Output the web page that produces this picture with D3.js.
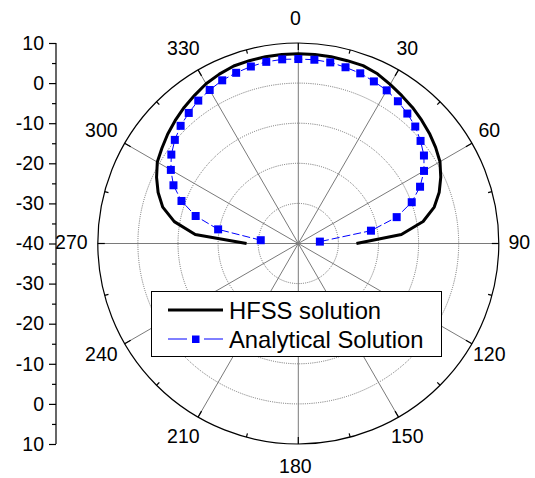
<!DOCTYPE html>
<html>
<head>
<meta charset="utf-8">
<script src="https://cdn.jsdelivr.net/npm/d3@7"></script>
<style>
  html, body { margin: 0; padding: 0; background: #fff; }
  svg { display: block; font-family: "Liberation Sans", Arial, sans-serif; }
</style>
</head>
<body>
<svg id="chart" width="535" height="478"></svg>
<script>
// Radiation pattern (dB) versus angle (degrees, 0 = broadside, clockwise)
const hfssAngles = d3.range(-90, 91, 5);
const hfssValues = [
  -27.1, -14.2, -8.6, -5.0, -2.8, -1.0, 0.6, 1.5, 2.5, 3.4, 4.3, 5.1, 6.0, 6.6, 7.1, 7.2, 7.3, 7.3,
  7.3,
  7.3, 7.3, 7.2, 7.2, 6.7, 5.8, 5.0, 4.3, 3.5, 2.7, 1.8, 0.8, -0.8, -2.6, -4.9, -8.4, -14.2, -25.5
];

const analyticalAngles = d3.range(-85, 86, 5);
const analyticalValues = [
  -30.6, -19.7, -13.5, -9.0, -5.65, -3.3, -1.35, 0.2, 1.5, 2.5, 3.5, 4.2, 4.9, 5.3, 5.7, 6.0, 6.1,
  6.0,
  6.0, 5.86, 5.5, 5.16, 4.6, 4.1, 3.3, 2.3, 1.25, -0.2, -1.75, -3.8, -6.5, -9.9, -14.6, -21.6, -34.6
];

const radialTicks = [10, 0, -10, -20, -30, -40];
const radialMinorTicks = [5, -5, -15, -25, -35];
const angleTicks = [0, 30, 60, 90, 120, 150, 180, 210, 240, 270, 300, 330];
const angleMinorTicks = [15, 45, 75, 105, 135, 165, 195, 225, 255, 285, 315, 345];
const gridRings = [-30, -20, -10, 0];
const seriesNames = ["HFSS solution", "Analytical Solution"];

const cx = 298.3, cy = 243.5, R = 200.5;
const rad = d3.scaleLinear().domain([-40, 10]).range([0, R]).clamp(true);
const toRad = d => d * Math.PI / 180;

const svg = d3.select("#chart");
svg.append("rect").attr("width", 535).attr("height", 478).attr("fill", "#fff");

const g = svg.append("g").attr("transform", `translate(${cx},${cy})`);

// dotted grid rings
g.selectAll("circle.ring").data(gridRings).join("circle")
  .attr("class", "ring")
  .attr("r", d => rad(d))
  .attr("fill", "none")
  .attr("stroke", "#6e6e6e")
  .attr("stroke-width", 1)
  .attr("stroke-dasharray", "1,1.2");

// spokes
g.selectAll("line.spoke").data(angleTicks).join("line")
  .attr("class", "spoke")
  .attr("x1", 0).attr("y1", 0)
  .attr("x2", d => R * Math.sin(toRad(d)))
  .attr("y2", d => -R * Math.cos(toRad(d)))
  .attr("stroke", "#7a7a7a")
  .attr("stroke-width", 1);

// outer circle
g.append("circle").attr("r", R).attr("fill", "none").attr("stroke", "#000").attr("stroke-width", 1.2);

// angular ticks (inward)
function angTick(list, len, cls) {
  g.selectAll("line." + cls).data(list).join("line")
    .attr("class", cls)
    .attr("x1", d => R * Math.sin(toRad(d)))
    .attr("y1", d => -R * Math.cos(toRad(d)))
    .attr("x2", d => (R - len) * Math.sin(toRad(d)))
    .attr("y2", d => -(R - len) * Math.cos(toRad(d)))
    .attr("stroke", "#000")
    .attr("stroke-width", 1.2);
}
angTick(angleTicks, 7, "amaj");
angTick(angleMinorTicks, 4, "amin");

// angular labels
const LR = 224;
g.selectAll("text.alab").data(angleTicks).join("text")
  .attr("class", "alab")
  .attr("x", d => LR * Math.sin(toRad(d)) - 3)
  .attr("y", d => -LR * Math.cos(toRad(d)) - 1.5)
  .attr("dy", "0.36em")
  .attr("text-anchor", "middle")
  .attr("font-size", 19.5)
  .attr("fill", "#000")
  .text(d => d);

// HFSS curve
const hfssData = hfssAngles.map((a, i) => ({ a, v: hfssValues[i] }));
const radialLine = d3.lineRadial()
  .angle(d => toRad(d.a))
  .radius(d => rad(d.v));
g.append("path")
  .datum(hfssData)
  .attr("d", radialLine)
  .attr("fill", "none")
  .attr("stroke", "#000")
  .attr("stroke-width", 3)
  .attr("stroke-linejoin", "round");

// Analytical curve
const anData = analyticalAngles.map((a, i) => ({ a, v: analyticalValues[i] }));
g.append("path")
  .datum(anData)
  .attr("d", radialLine)
  .attr("fill", "none")
  .attr("stroke", "#0000ff")
  .attr("stroke-width", 1)
  .attr("stroke-dasharray", "8,3");

const ms = 8;
g.selectAll("rect.mk").data(anData).join("rect")
  .attr("class", "mk")
  .attr("x", d => rad(d.v) * Math.sin(toRad(d.a)) - ms / 2)
  .attr("y", d => -rad(d.v) * Math.cos(toRad(d.a)) - ms / 2)
  .attr("width", ms).attr("height", ms)
  .attr("fill", "#0000ff");

// radial axis on the left, mirrored above and below the center
const axisX = 56;
const yUp = d3.scaleLinear().domain([-40, 10]).range([cy, cy - R]);
const yDown = d3.scaleLinear().domain([-40, 10]).range([cy, cy + R]);

const axG = svg.append("g").attr("transform", `translate(${axisX},0)`);
axG.append("line")
  .attr("x1", 0).attr("x2", 0)
  .attr("y1", cy - R).attr("y2", cy + R)
  .attr("stroke", "#000").attr("stroke-width", 1.2);

[yUp, yDown].forEach((sc, k) => {
  const major = d3.axisLeft(sc)
    .tickValues(k === 0 ? radialTicks : radialTicks.filter(t => t !== -40))
    .tickSize(7).tickSizeOuter(0).tickPadding(5)
    .tickFormat(d => d);
  const gm = axG.append("g").call(major);
  gm.select(".domain").remove();
  gm.selectAll(".tick line").attr("stroke", "#000").attr("stroke-width", 1.2);
  gm.selectAll(".tick text")
    .attr("font-size", 19.5)
    .attr("font-family", "Liberation Sans, Arial, sans-serif")
    .attr("fill", "#000");

  const minor = d3.axisLeft(sc).tickValues(radialMinorTicks).tickSize(4).tickSizeOuter(0).tickFormat("");
  const gn = axG.append("g").call(minor);
  gn.select(".domain").remove();
  gn.selectAll(".tick line").attr("stroke", "#000").attr("stroke-width", 1.2);
});

// legend
const lg = svg.append("g");
lg.append("rect")
  .attr("x", 151.5).attr("y", 291.5).attr("width", 290).attr("height", 65)
  .attr("fill", "#fff").attr("stroke", "#000").attr("stroke-width", 1);

lg.append("line").attr("x1", 168).attr("x2", 223).attr("y1", 310).attr("y2", 310)
  .attr("stroke", "#000").attr("stroke-width", 3);
lg.append("line").attr("x1", 168).attr("x2", 187).attr("y1", 339).attr("y2", 339)
  .attr("stroke", "#0000ff").attr("stroke-width", 1);
lg.append("line").attr("x1", 204).attr("x2", 223).attr("y1", 339).attr("y2", 339)
  .attr("stroke", "#0000ff").attr("stroke-width", 1);
lg.append("rect").attr("x", 192).attr("y", 335.5).attr("width", 7.5).attr("height", 7.5)
  .attr("fill", "#0000ff");

lg.selectAll("text.lt").data(seriesNames).join("text")
  .attr("class", "lt")
  .attr("x", 229)
  .attr("y", (d, i) => 310 + i * 29)
  .attr("dy", "0.36em")
  .attr("font-size", 23.8)
  .attr("fill", "#000")
  .text(d => d);
</script>
</body>
</html>
